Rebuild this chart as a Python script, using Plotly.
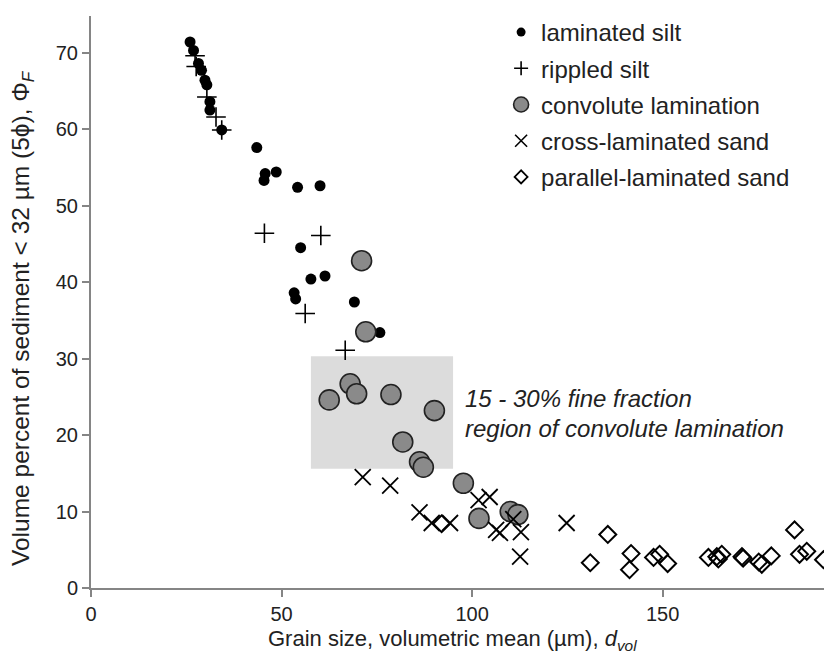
import plotly.graph_objects as go

# laminated silt (black dots)
lam_x = [26.0, 26.9, 28.2, 29.0, 29.9, 30.4, 31.2, 31.2, 34.3, 43.5, 45.7, 45.4, 48.6, 54.2, 60.1, 55.0, 57.7, 61.4, 53.3, 53.7, 69.1, 75.8]
lam_y = [71.4, 70.3, 68.6, 67.7, 66.4, 65.8, 63.6, 62.5, 59.9, 57.6, 54.2, 53.3, 54.4, 52.4, 52.6, 44.5, 40.4, 40.8, 38.6, 37.8, 37.4, 33.4]

# rippled silt (+)
rip_x = [27.3, 27.6, 30.4, 32.8, 34.3, 45.5, 60.3, 56.2, 66.7]
rip_y = [69.6, 68.2, 64.2, 61.6, 59.9, 46.4, 46.1, 35.9, 31.1]

# convolute lamination (grey circles)
con_x = [71.0, 72.1, 62.5, 68.0, 69.7, 78.7, 90.1, 81.8, 86.2, 87.2, 97.7, 101.8, 110.0, 112.0]
con_y = [42.8, 33.5, 24.6, 26.7, 25.4, 25.3, 23.2, 19.1, 16.5, 15.8, 13.7, 9.1, 10.0, 9.6]

# cross-laminated sand (x)
crs_x = [71.3, 78.5, 86.2, 89.4, 94.2, 101.7, 104.6, 106.3, 107.3, 110.8, 112.8, 112.6, 124.8]
crs_y = [14.5, 13.4, 9.9, 8.5, 8.5, 11.5, 11.9, 7.6, 7.2, 9.0, 7.3, 4.1, 8.5]

# parallel-laminated sand (open diamonds)
par_x = [92.0, 135.6, 131.0, 141.7, 141.3, 147.6, 149.2, 151.3, 162.0, 164.2, 165.5, 164.6, 170.8, 171.1, 175.2, 176.0, 178.5, 184.6, 185.9, 187.8, 192.2]
par_y = [8.4, 7.0, 3.3, 4.5, 2.4, 4.0, 4.4, 3.2, 4.0, 4.1, 4.4, 3.8, 4.1, 3.9, 3.4, 3.1, 4.2, 7.6, 4.4, 4.8, 3.7]

box_x = [57.7, 95.0]
box_y = [15.6, 30.3]

x_ticks = [0, 50, 100, 150]
y_ticks = [0, 10, 20, 30, 40, 50, 60, 70]

series_names = ["laminated silt", "rippled silt", "convolute lamination",
                "cross-laminated sand", "parallel-laminated sand"]

FONT = "Liberation Sans, Arial, sans-serif"

styles = [
    dict(symbol="circle", size=11, color="black", line=dict(width=0)),
    dict(symbol="cross-thin-open", size=14, color="black", line=dict(width=1.6, color="black")),
    dict(symbol="circle", size=20, color="#8a8a8a", line=dict(width=1.6, color="#222222")),
    dict(symbol="x-thin-open", size=16, color="black", line=dict(width=1.8, color="black")),
    dict(symbol="diamond-open", size=13, color="black", line=dict(width=2, color="black")),
]
legend_styles = [
    dict(symbol="circle", size=9, color="black", line=dict(width=0)),
    dict(symbol="cross-thin-open", size=10, color="black", line=dict(width=1.6, color="black")),
    dict(symbol="circle", size=15, color="#8a8a8a", line=dict(width=1.6, color="#222222")),
    dict(symbol="x-thin-open", size=12, color="black", line=dict(width=1.6, color="black")),
    dict(symbol="diamond-open", size=10, color="black", line=dict(width=1.8, color="black")),
]
data = [(lam_x, lam_y), (rip_x, rip_y), (con_x, con_y), (crs_x, crs_y), (par_x, par_y)]

fig = go.Figure()
fig.add_shape(type="rect", xref="x", yref="y", x0=box_x[0], x1=box_x[1], y0=box_y[0], y1=box_y[1],
              fillcolor="#dcdcdc", line=dict(width=0), layer="below")

for i, (name, (xs, ys)) in enumerate(zip(series_names, data)):
    fig.add_trace(go.Scatter(x=xs, y=ys, mode="markers", name=name, showlegend=False,
                             marker=styles[i]))
for i, name in enumerate(series_names):
    fig.add_trace(go.Scatter(x=[None], y=[None], mode="markers", name=name,
                             legendgroup="g%d" % i, marker=legend_styles[i]))

fig.add_annotation(x=97.6, y=24.8, xref="x", yref="y", xanchor="left", yanchor="middle",
                   text="<i>15 - 30% fine fraction</i>", showarrow=False,
                   font=dict(family=FONT, size=24, color="#222222"))
fig.add_annotation(x=97.6, y=20.8, xref="x", yref="y", xanchor="left", yanchor="middle",
                   text="<i>region of convolute lamination</i>", showarrow=False,
                   font=dict(family=FONT, size=24, color="#222222"))

# axis titles as annotations (placed like the reference)
fig.add_annotation(x=0.4846, y=-0.0905, xref="paper", yref="paper", xanchor="center", yanchor="middle",
                   text="Grain size, volumetric mean (µm), <i>d<sub>vol</sub></i>", showarrow=False,
                   font=dict(family=FONT, size=22, color="#222222"))
fig.add_annotation(x=-0.0924, y=0.472, xref="paper", yref="paper", xanchor="center", yanchor="middle",
                   textangle=-90,
                   text="Volume percent of sediment < 32 µm (5ϕ), Φ<sub><i>F</i></sub>", showarrow=False,
                   font=dict(family=FONT, size=24.5, color="#222222"))

axis_common = dict(showline=True, linecolor="#858585", linewidth=2, ticks="outside",
                   tickcolor="#858585", tickwidth=2, ticklen=7, showgrid=False, zeroline=False,
                   automargin=False,
                   tickfont=dict(family=FONT, size=20, color="#222222"))

fig.update_xaxes(range=[0, 196], tickvals=x_ticks, ticktext=[str(v) for v in x_ticks], **axis_common)
fig.update_yaxes(range=[0, 74.8], tickvals=y_ticks, ticktext=[str(v) for v in y_ticks], **axis_common)

fig.update_layout(
    width=832, height=664,
    margin=dict(l=83, r=2, t=4, b=84),
    plot_bgcolor="white", paper_bgcolor="white",
    font=dict(family=FONT),
    legend=dict(x=0.549, y=1.0105, xanchor="left", yanchor="top",
                font=dict(family=FONT, size=24, color="#222222"),
                tracegroupgap=2, itemsizing="trace", bgcolor="rgba(0,0,0,0)"),
)

fig.write_html("out.html")
